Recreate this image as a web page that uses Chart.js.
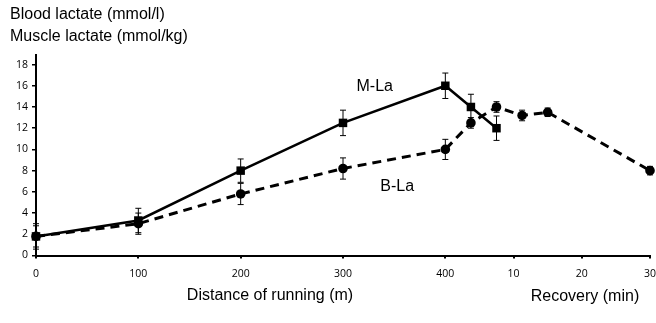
<!DOCTYPE html>
<html><head><meta charset="utf-8">
<script src="https://cdn.jsdelivr.net/npm/chart.js@4/dist/chart.umd.min.js"></script>
<style>
html,body{margin:0;padding:0;overflow:hidden;background:#fff;width:656px;height:323px}
#wrap{position:relative;width:670px;height:323px}
</style>
</head><body><div id="wrap"><canvas id="c" width="670" height="323"></canvas></div>
<script>
// ---- data ----
const distanceM = [0, 100, 200, 300, 400];
const recoveryMinMLa = [3.75, 7.5];
const recoveryMinBLa = [3.75, 7.5, 11.25, 15, 30];
const mLaValues = [1.8, 3.3, 8.0, 12.5, 16.0, 14.0, 12.0];
const mLaErrors = [1.2, 1.15, 1.1, 1.2, 1.2, 1.2, 1.15];
const bLaValues = [1.8, 3.0, 5.8, 8.2, 10.0, 12.5, 14.0, 13.2, 13.5, 8.0];
const bLaErrors = [1.0, 1.0, 1.0, 1.0, 0.95, 0.5, 0.5, 0.5, 0.4, 0.4];
const distanceTicks = [0, 100, 200, 300, 400];
const recoveryTicks = [10, 20, 30];
const yTicks = [0, 2, 4, 6, 8, 10, 12, 14, 16, 18];
const yTitleLines = ['Blood lactate (mmol/l)', 'Muscle lactate (mmol/kg)'];
const xTitleDistance = 'Distance of running (m)';
const xTitleRecovery = 'Recovery (min)';
const seriesNames = ['M-La', 'B-La'];

// recovery minutes share the axis after the 400 m mark (30 min spans 200 axis units)
const recoveryPos = t => 400 + t * 200 / 30;

const mLaX = distanceM.concat(recoveryMinMLa.map(recoveryPos));
const bLaX = distanceM.concat(recoveryMinBLa.map(recoveryPos));
const mLaData = mLaValues.map((v, i) => ({x: mLaX[i], y: v, e: mLaErrors[i]}));
const bLaData = bLaValues.map((v, i) => ({x: bLaX[i], y: v, e: bLaErrors[i]}));

const xTickValues = distanceTicks.concat(recoveryTicks.map(recoveryPos));
const xTickLabels = distanceTicks.map(String).concat(recoveryTicks.map(String));

const TXT = '16px "Liberation Sans", Arial, sans-serif';

const decor = {
  id: 'decor',
  beforeDatasetsDraw(chart) {
    const ctx = chart.ctx, ys = chart.scales.y;
    ctx.save();
    ctx.strokeStyle = '#000';
    ctx.lineWidth = 1;
    chart.data.datasets.forEach((ds, di) => {
      const meta = chart.getDatasetMeta(di);
      ds.data.forEach((d, j) => {
        const px = meta.data[j].x;
        const top = ys.getPixelForValue(d.y + d.e);
        const bot = ys.getPixelForValue(d.y - d.e);
        ctx.beginPath();
        ctx.moveTo(px, top); ctx.lineTo(px, bot);
        ctx.moveTo(px - 3, top); ctx.lineTo(px + 3, top);
        ctx.moveTo(px - 3, bot); ctx.lineTo(px + 3, bot);
        ctx.stroke();
      });
    });
    ctx.restore();
  },
  afterDraw(chart) {
    const ctx = chart.ctx, xs = chart.scales.x, ys = chart.scales.y;
    ctx.save();
    ctx.fillStyle = '#000';
    ctx.font = TXT;
    ctx.textBaseline = 'alphabetic';
    ctx.textAlign = 'left';
    ctx.fillText(yTitleLines[0], 10, 19);
    ctx.fillText(yTitleLines[1], 10, 41);
    ctx.textAlign = 'center';
    ctx.fillText(xTitleDistance, 270, 300);
    ctx.fillText(xTitleRecovery, 585, 301);
    // series labels placed in data coordinates
    ctx.fillText(seriesNames[0], xs.getPixelForValue(331), ys.getPixelForValue(15.5));
    ctx.fillText(seriesNames[1], xs.getPixelForValue(353), ys.getPixelForValue(6.1));
    ctx.restore();
  }
};

new Chart(document.getElementById('c'), {
  type: 'line',
  data: {
    datasets: [
      {
        label: seriesNames[0], data: mLaData,
        borderColor: '#000', backgroundColor: '#000', borderWidth: 2.5,
        pointStyle: 'rect', pointRadius: 6, pointBorderWidth: 0,
        tension: 0, clip: false
      },
      {
        label: seriesNames[1], data: bLaData,
        borderColor: '#000', backgroundColor: '#000', borderWidth: 3,
        borderDash: [9, 6],
        pointStyle: 'circle', pointRadius: 4.8, pointBorderWidth: 0,
        tension: 0, clip: false
      }
    ]
  },
  options: {
    responsive: false,
    animation: false,
    devicePixelRatio: 1,
    layout: {padding: {top: 55, left: 0, right: 20, bottom: 0}},
    plugins: {legend: {display: false}, tooltip: {enabled: false}, title: {display: false}},
    scales: {
      x: {
        type: 'linear', min: 0, max: 600,
        afterBuildTicks: s => { s.ticks = xTickValues.map(v => ({value: v})); },
        afterFit: s => { s.height = 67.5; },
        ticks: {
          autoSkip: false, maxRotation: 0, padding: 9,
          color: '#000',
          font: {family: '"Open Sans", sans-serif', size: 10.5},
          callback: (v, i) => xTickLabels[i]
        },
        grid: {display: true, drawOnChartArea: false, drawTicks: true, tickLength: 3, color: '#000', lineWidth: 2},
        border: {display: true, color: '#000', width: 2}
      },
      y: {
        type: 'linear', min: 0, max: 18.9,
        afterBuildTicks: s => { s.ticks = yTicks.map(v => ({value: v})); },
        afterFit: s => { s.width = 36; },
        ticks: {
          padding: 4, color: '#000',
          font: {family: '"Open Sans", sans-serif', size: 10.5},
          callback: v => String(v)
        },
        grid: {display: true, drawOnChartArea: false, drawTicks: true, tickLength: 4, color: '#000', lineWidth: 1.5},
        border: {display: true, color: '#000', width: 2}
      }
    }
  },
  plugins: [decor]
});
</script>
</body></html>
